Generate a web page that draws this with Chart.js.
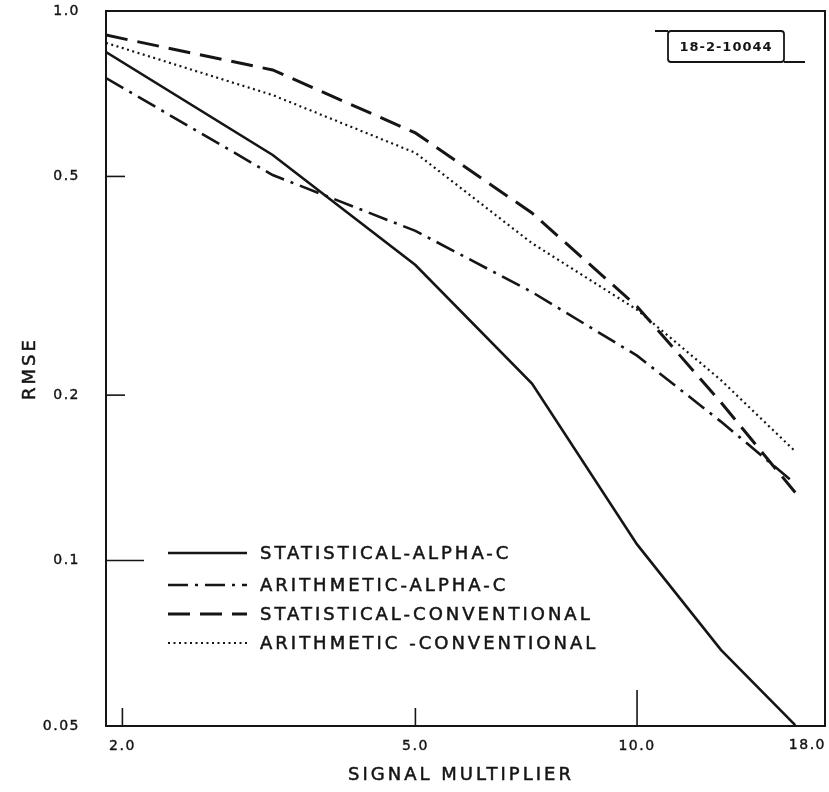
<!DOCTYPE html>
<html>
<head>
<meta charset="utf-8">
<title>RMSE vs Signal Multiplier</title>
<script src="https://cdn.jsdelivr.net/npm/chart.js@4"></script>
<style>
  html, body { margin: 0; padding: 0; background: #fff; }
  #wrap { width: 829px; height: 792px; }
</style>
</head>
<body>
<div id="wrap"><canvas id="chart" width="829" height="792"></canvas></div>
<script>
// Values (log-log axes)
const signalMultiplier = [1.9, 3.2, 5.0, 7.2, 10.0, 13.0, 16.4];
const statisticalAlphaC = [0.842, 0.547, 0.345, 0.210, 0.107, 0.0688, 0.0502];
const arithmeticAlphaC = [0.755, 0.503, 0.398, 0.308, 0.236, 0.179, 0.138];
const statisticalConventional = [0.904, 0.781, 0.600, 0.429, 0.290, 0.194, 0.133];
const arithmeticConventional = [0.875, 0.703, 0.552, 0.378, 0.286, 0.213, 0.158];

const xTicks = [2, 5, 10, 18];
const yTicks = [0.05, 0.1, 0.2, 0.5, 1.0];
const seriesLabels = ['STATISTICAL-ALPHA-C', 'ARITHMETIC-ALPHA-C', 'STATISTICAL-CONVENTIONAL', 'ARITHMETIC -CONVENTIONAL'];
const xTitle = 'SIGNAL MULTIPLIER';
const yTitle = 'RMSE';
const figureTag = '18-2-10044';

const INK = '#151515';
const FONT = '"DejaVu Sans", "Liberation Sans", sans-serif';

function toPoints(ys) {
    return signalMultiplier.map((x, i) => ({ x: x, y: ys[i] }));
}

function series(label, ys, dash, width) {
    return {
        label: label,
        data: toPoints(ys),
        borderColor: INK,
        borderWidth: width,
        borderDash: dash,
        borderCapStyle: 'butt',
        pointRadius: 0,
        tension: 0,
        fill: false
    };
}

// lettering on the original is a bit heavier than a plain fill
function inkText(ctx, text, x, y) {
    ctx.fillText(text, x, y);
    ctx.strokeText(text, x, y);
}

// Frame, inward tick marks, axis titles, figure tag and the legend
const decorations = {
    id: 'decorations',
    beforeDraw(chart) {
        chart.ctx.letterSpacing = '1.5px';
    },
    afterDraw(chart) {
        const { ctx, chartArea: a, scales } = chart;
        ctx.save();
        ctx.strokeStyle = INK;
        ctx.fillStyle = INK;
        ctx.lineWidth = 2;
        ctx.setLineDash([]);
        ctx.strokeRect(a.left, a.top, a.right - a.left, a.bottom - a.top);

        // ticks pointing into the plot; decade ticks are longer
        ctx.lineWidth = 1.6;
        yTicks.forEach(v => {
            if (v === 1.0 || v === 0.05) return;
            const y = scales.y.getPixelForValue(v);
            const len = v === 0.1 ? 38 : 19;
            ctx.beginPath();
            ctx.moveTo(a.left, y);
            ctx.lineTo(a.left + len, y);
            ctx.stroke();
        });
        xTicks.forEach(v => {
            if (v === 18) return;
            const x = scales.x.getPixelForValue(v);
            const len = v === 10 ? 36 : 18;
            ctx.beginPath();
            ctx.moveTo(x, a.bottom);
            ctx.lineTo(x, a.bottom - len);
            ctx.stroke();
        });

        // last x label sits flush with the right edge
        ctx.lineWidth = 0.4;
        ctx.font = '14px ' + FONT;
        ctx.letterSpacing = '1.5px';
        ctx.textAlign = 'right';
        ctx.textBaseline = 'middle';
        const last = xTicks[xTicks.length - 1];
        inkText(ctx, last.toFixed(1), scales.x.getPixelForValue(last) + 1, a.bottom + 19);

        // axis titles, widely spaced lettering
        ctx.lineWidth = 0.5;
        ctx.font = '18px ' + FONT;
        ctx.letterSpacing = '3px';
        ctx.textAlign = 'center';
        inkText(ctx, xTitle, 461, 775);
        ctx.save();
        ctx.translate(30, (a.top + a.bottom) / 2);
        ctx.rotate(-Math.PI / 2);
        inkText(ctx, yTitle, 0, 0);
        ctx.restore();

        // figure tag box
        const bx = 668, by = 31, bw = 116, bh = 31;
        ctx.lineWidth = 1.8;
        ctx.beginPath();
        ctx.roundRect(bx, by, bw, bh, 3);
        ctx.stroke();
        ctx.beginPath();
        ctx.moveTo(bx - 13, by);
        ctx.lineTo(bx, by);
        ctx.moveTo(bx + bw, by + bh);
        ctx.lineTo(bx + bw + 21, by + bh);
        ctx.stroke();
        ctx.font = 'bold 13px ' + FONT;
        ctx.letterSpacing = '1px';
        ctx.fillText(figureTag, bx + bw / 2, by + bh / 2 + 1);

        // legend
        const rows = [553, 585, 614, 643];
        ctx.font = '18px ' + FONT;
        ctx.letterSpacing = '3px';
        ctx.textAlign = 'left';
        chart.data.datasets.forEach((ds, i) => {
            const y = rows[i];
            ctx.lineWidth = ds.borderWidth;
            ctx.setLineDash(ds.borderDash || []);
            ctx.beginPath();
            ctx.moveTo(168, y);
            ctx.lineTo(247, y);
            ctx.stroke();
            ctx.setLineDash([]);
            ctx.lineWidth = 0.5;
            inkText(ctx, ds.label, 260, y + 1);
        });
        ctx.restore();
        chart.ctx.letterSpacing = '0px';
    }
};

const tickFont = { family: FONT, size: 14 };

new Chart(document.getElementById('chart'), {
    type: 'line',
    data: {
        datasets: [
            series(seriesLabels[0], statisticalAlphaC, [], 2.6),
            series(seriesLabels[1], arithmeticAlphaC, [20, 7, 3, 7], 2.6),
            series(seriesLabels[2], statisticalConventional, [22, 10], 3),
            series(seriesLabels[3], arithmeticConventional, [2, 3.5], 2.2)
        ]
    },
    options: {
        responsive: false,
        animation: false,
        devicePixelRatio: 1,
        layout: { padding: { top: 11, right: 4, bottom: 0, left: 0 } },
        plugins: {
            legend: { display: false },
            tooltip: { enabled: false }
        },
        scales: {
            x: {
                type: 'logarithmic',
                min: 1.9,
                max: 18,
                grid: { display: false, drawTicks: false },
                border: { display: false },
                afterBuildTicks: s => { s.ticks = xTicks.map(v => ({ value: v })); },
                afterFit: s => { s.height = 66; s.paddingLeft = 0; s.paddingRight = 0; },
                ticks: {
                    autoSkip: false,
                    maxRotation: 0,
                    padding: 12,
                    color: INK,
                    textStrokeColor: INK,
                    textStrokeWidth: 0.4,
                    font: tickFont,
                    callback: v => (v === 18 ? '' : Number(v).toFixed(1))
                }
            },
            y: {
                type: 'logarithmic',
                min: 0.05,
                max: 1.0,
                grid: { display: false, drawTicks: false },
                border: { display: false },
                afterBuildTicks: s => { s.ticks = yTicks.map(v => ({ value: v })); },
                afterFit: s => { s.width = 106; s.paddingTop = 0; s.paddingBottom = 0; },
                ticks: {
                    autoSkip: false,
                    padding: 26,
                    color: INK,
                    textStrokeColor: INK,
                    textStrokeWidth: 0.4,
                    font: tickFont,
                    callback: v => (v === 0.05 ? '0.05' : Number(v).toFixed(1))
                }
            }
        }
    },
    plugins: [decorations]
});
</script>
</body>
</html>
